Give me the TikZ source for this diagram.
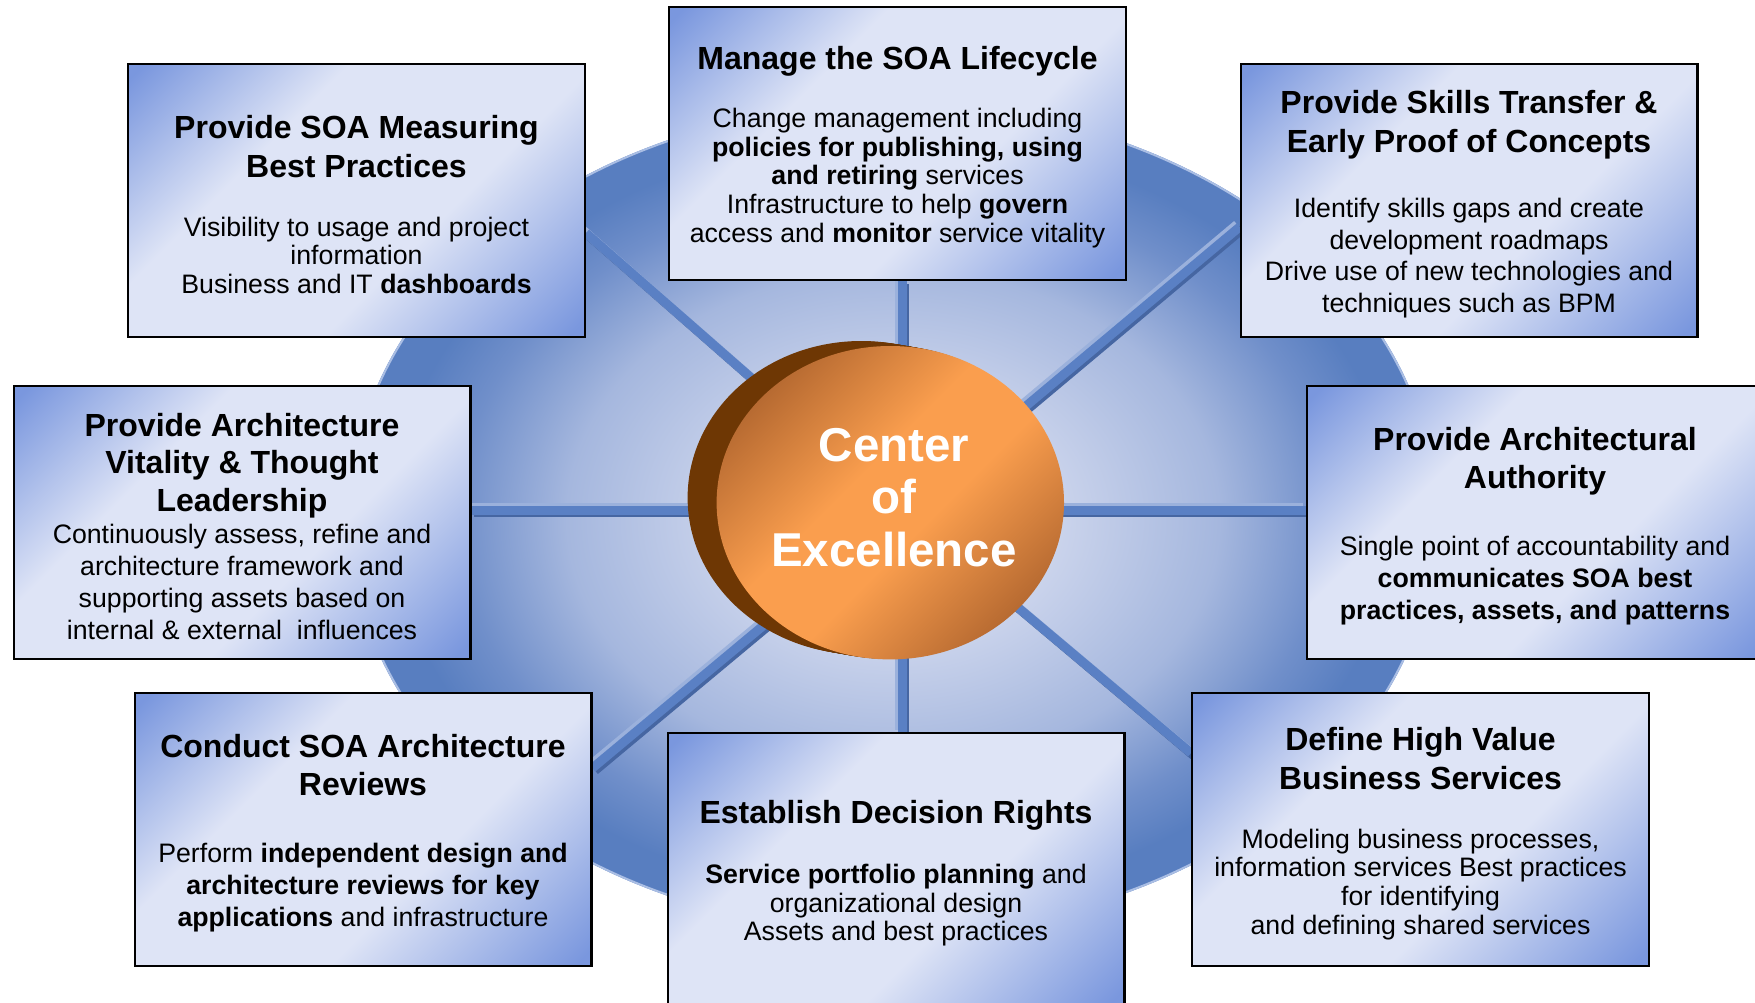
\documentclass[tikz,border=0pt]{standalone}
\usepackage{fontspec}
\setmainfont{Liberation Sans}
\usetikzlibrary{shapes.geometric}

\definecolor{bxb}{RGB}{122,151,222}
\definecolor{bxl}{RGB}{222,228,246}
\definecolor{orD}{RGB}{180,104,48}
\definecolor{orL}{RGB}{250,158,78}
\definecolor{brn}{RGB}{110,55,4}
\definecolor{elc}{RGB}{203,212,236}
\definecolor{elm}{RGB}{165,183,222}
\definecolor{elo}{RGB}{112,143,202}
\definecolor{ele}{RGB}{88,126,192}
\definecolor{elrim}{RGB}{170,190,228}
\definecolor{spk}{RGB}{90,128,196}
\definecolor{spkd}{RGB}{70,102,162}
\definecolor{spkl}{RGB}{155,177,220}

\pgfdeclarehorizontalshading{boxgrad}{100bp}{color(0bp)=(bxb); color(16bp)=(bxb); color(36bp)=(bxl); color(60bp)=(bxl); color(84bp)=(bxb); color(100bp)=(bxb)}
\pgfdeclarehorizontalshading{orgrad}{100bp}{color(0bp)=(orD); color(24bp)=(orD); color(44bp)=(orL); color(56bp)=(orL); color(76bp)=(orD); color(100bp)=(orD)}
\pgfdeclareradialshading{discgrad}{\pgfpoint{0bp}{0bp}}{color(0bp)=(elc); color(7.5bp)=(elc); color(15bp)=(elm); color(20bp)=(elo); color(23bp)=(ele); color(25bp)=(ele); color(50bp)=(ele)}

\pgfdeclarelayer{bg}
\pgfsetlayers{bg,main}

\newcommand\boxtitle[1]{{\fontsize{32}{38}\selectfont\bfseries #1}}
\newcommand\firsttitle[1]{{\fontsize{32}{38}\selectfont\bfseries\rule{0pt}{31pt}#1}}

\tikzset{
  infobox/.style={draw=black, line width=2.4pt, shading=boxgrad, shading angle=-45,
    minimum width=456.6pt, minimum height=272.6pt, inner sep=0pt, align=center, text=black},
  bodyA/.style={font=\fontsize{26.7}{28.5}\selectfont},
  bodyB/.style={font=\fontsize{26.7}{32}\selectfont},
  spoke/.style={line width=9pt, draw=spk,
    preaction={draw=spkd, line width=9pt, transform canvas={shift={(2.5pt,-2.5pt)}}},
    preaction={draw=spkl, line width=9pt, transform canvas={shift={(-2.5pt,2.5pt)}}}},
  cetext/.style={font=\fontsize{47.5}{52.5}\selectfont\bfseries, text=white, align=center, inner sep=0pt}
}

\begin{document}
\begin{tikzpicture}[x=1pt,y=-1pt]
\useasboundingbox (0,0) rectangle (1755,1002);

% boxes
\node[infobox,bodyA] (b1) at (356.5,200.5) {\firsttitle{Provide SOA Measuring}\\[8pt]\boxtitle{Best Practices}\\[30.5pt]Visibility to usage and project\\information\\Business and IT \textbf{dashboards}};
\node[infobox,font=\fontsize{26.7}{28.8}\selectfont] (b2) at (897.5,143.5) {\firsttitle{Manage the SOA Lifecycle}\\[28.5pt]Change management including\\\textbf{policies for publishing, using}\\\textbf{and retiring} services\\Infrastructure to help \textbf{govern}\\access and \textbf{monitor} service vitality};
\node[infobox,font=\fontsize{26.7}{31.7}\selectfont] (b3) at (1469,200.5) {\firsttitle{Provide Skills Transfer \&}\\[7.3pt]\boxtitle{Early Proof of Concepts}\\[33pt]Identify skills gaps and create\\development roadmaps\\Drive use of new technologies and\\techniques such as BPM};
\node[infobox,bodyB] (b4) at (242,522.5) {\firsttitle{Provide Architecture}\\[5.5pt]\boxtitle{Vitality \& Thought}\\[6pt]\boxtitle{Leadership}\\[0pt]Continuously assess, refine and\\architecture framework and\\supporting assets based on\\internal \& external~ influences};
\node[infobox,bodyB] (b5) at (1535,522.5) {\firsttitle{Provide Architectural}\\[6pt]\boxtitle{Authority}\\[35pt]Single point of accountability and\\\textbf{communicates SOA best}\\\textbf{practices, assets, and patterns}};
\node[infobox,bodyB] (b6) at (363,829.5) {\firsttitle{Conduct SOA Architecture}\\[6pt]\boxtitle{Reviews}\\[35pt]Perform \textbf{independent design and}\\\textbf{architecture reviews for key}\\\textbf{applications} and infrastructure};
\node[infobox,bodyA] (b7) at (896,869.5) {\firsttitle{Establish Decision Rights}\\[31.5pt]\textbf{Service portfolio planning} and\\organizational design\\Assets and best practices};
\node[infobox,font=\fontsize{26.7}{28.7}\selectfont] (b8) at (1420.5,829.5) {\firsttitle{Define High Value}\\[8.3pt]\boxtitle{Business Services}\\[30pt]Modeling business processes,\\information services Best practices\\for identifying\\and defining shared services};

% centre disc (orange, with brown extrusion)
\foreach \i in {1,...,10}
  \fill[brn] ({890.3-2.9*\i},{502.7-0.5*\i}) ellipse [x radius=173.7pt, y radius=156.7pt];
\node[ellipse, shading=orgrad, shading angle=-45, minimum width=347.4pt, minimum height=313.4pt, inner sep=0pt] (coe) at (890.3,502.7) {};
\node[cetext] (coetext) at (894,497.5) {Center\\of\\Excellence};

% hub and spoke ends
\coordinate (hub) at (902,510);
\coordinate (e1) at (b1.east |- 0,233);
\coordinate (e2) at (b2.south -| hub);
\coordinate (e3) at (b3.west |- 0,227);
\coordinate (e4) at (b4.east |- hub);
\coordinate (e5) at (b5.west |- hub);
\coordinate (e6) at (b6.east |- 0,768);
\coordinate (e7) at (b7.north -| hub);
\coordinate (e8) at (b8.west |- 0,753);

\begin{pgfonlayer}{bg}
  \path[shading=discgrad] (893,518) ellipse [x radius=544pt, y radius=415pt];
  \draw[elrim, line width=2pt] (893,518) ellipse [x radius=543pt, y radius=414pt];
  \foreach \e in {e1,e2,e3,e4,e5,e6,e7,e8}
    \draw[spoke] (hub) -- (\e);
\end{pgfonlayer}
\end{tikzpicture}
\end{document}
